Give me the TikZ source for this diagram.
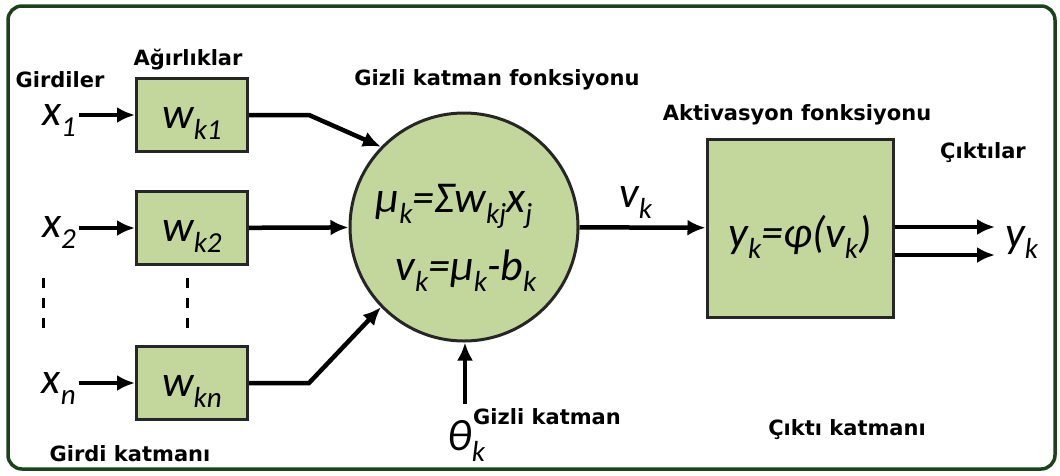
\documentclass[tikz,border=0pt]{standalone}
\usepackage{fontspec}
\setmainfont{DejaVu Sans}
\newfontfamily\calfont{Carlito}
\usetikzlibrary{arrows.meta}
\definecolor{framegreen}{RGB}{28,66,28}
\definecolor{boxgreen}{RGB}{195,214,155}
\newcommand\lowidx[1]{\raisebox{-0.26em}{\fontsize{29}{29}\selectfont #1}}

\begin{document}
\begin{tikzpicture}[x=1pt, y=-1pt, >={Latex[length=18pt,width=16pt]},
	caption/.style={font=\bfseries\fontsize{21}{25}\selectfont, inner sep=0pt},
	var/.style={font=\calfont\itshape\fontsize{44}{50}\selectfont, inner sep=0pt},
	weight/.style={var, draw=black!85, line width=3pt, fill=boxgreen, minimum width=111pt, minimum height=73pt, text height=36pt, text depth=10pt},
	link/.style={line width=4.5pt},
	dots/.style={line width=3pt, dash pattern=on 10pt off 10pt}]
	\fill[white] (0,0) rectangle (1060,475);
	\useasboundingbox (0,0) rectangle (1060,475);
	\draw[framegreen, line width=3.5pt, rounded corners=14pt] (8,6) rectangle (1055,469);

	\node (w1) [weight] at (192,115) {w\lowidx{k1}};
	\node (w2) [weight] at (192,228) {w\lowidx{k2}};
	\node (wn) [weight] at (192,383) {w\lowidx{kn}};
	\node (x1) [var, anchor=base east, inner xsep=3pt] at (79,125) {x\lowidx{1}};
	\node (x2) [var, anchor=base east, inner xsep=3pt] at (79,237) {x\lowidx{2}};
	\node (xn) [var, anchor=base east, inner xsep=3pt] at (79,393) {x\lowidx{n}};
	\draw[dots] (43,278) -- (43,330);
	\draw[dots] (187,278) -- (187,330);

	\node (sum) [circle, draw=black!85, line width=3pt, fill=boxgreen, minimum size=228pt, inner sep=0pt] at (464,227) {};
	\node (mu) [var, anchor=base] at (454,212) {μ\lowidx{k}=Σw\lowidx{kj}x\lowidx{j}};
	\node (nu) [var, anchor=base] at (466,280) {v\lowidx{k}=μ\lowidx{k}-b\lowidx{k}};
	\node (act) [draw=black!85, line width=3pt, fill=boxgreen, minimum width=186pt, minimum height=178pt, var, text height=48pt, text depth=10pt] at (800,228) {y\lowidx{k}=φ(v\lowidx{k})};
	\node (vk) [var, anchor=base west] at (619,207) {v\lowidx{k}};
	\node (yk) [var, anchor=base west] at (1005,247) {y\lowidx{k}};
	\node (theta) [var, anchor=base west] at (447,450) {θ\lowidx{k}};
	\coordinate (bias) at (465,404);
	\coordinate (out1) at (995,227);
	\coordinate (out2) at (995,255);

	\draw[link,->] (w1.west -| x1.east) -- (w1.west);
	\draw[link,->] (w2.west -| x2.east) -- (w2.west);
	\draw[link,->] (wn.west -| xn.east) -- (wn.west);
	\draw[link,->] (w1.east) -- ++(60,0) -- (sum.136);
	\draw[link,->] (w2) -- (sum);
	\draw[link,->] (wn.east) -- ++(60,0) -- (sum.224);
	\draw[link,->] (bias) -- (bias |- sum.south);
	\draw[link,->] (sum) -- (act);
	\draw[link,->] (act.east |- out1) -- (out1);
	\draw[link,->] (act.east |- out2) -- (out2);

	\node (inputs) [caption] at (60,80) {Girdiler};
	\node (weights) [caption] at (188,60) {Ağırlıklar};
	\node (inlayer) [caption] at (130,454) {Girdi katmanı};
	\node (hidfun) [caption] at (497,80) {Gizli katman fonksiyonu};
	\node (hidlayer) [caption] at (547,417) {Gizli katman};
	\node (actfun) [caption] at (797,115) {Aktivasyon fonksiyonu};
	\node (outputs) [caption] at (983,153) {Çıktılar};
	\node (outlayer) [caption] at (847,430) {Çıktı katmanı};
\end{tikzpicture}
\end{document}
